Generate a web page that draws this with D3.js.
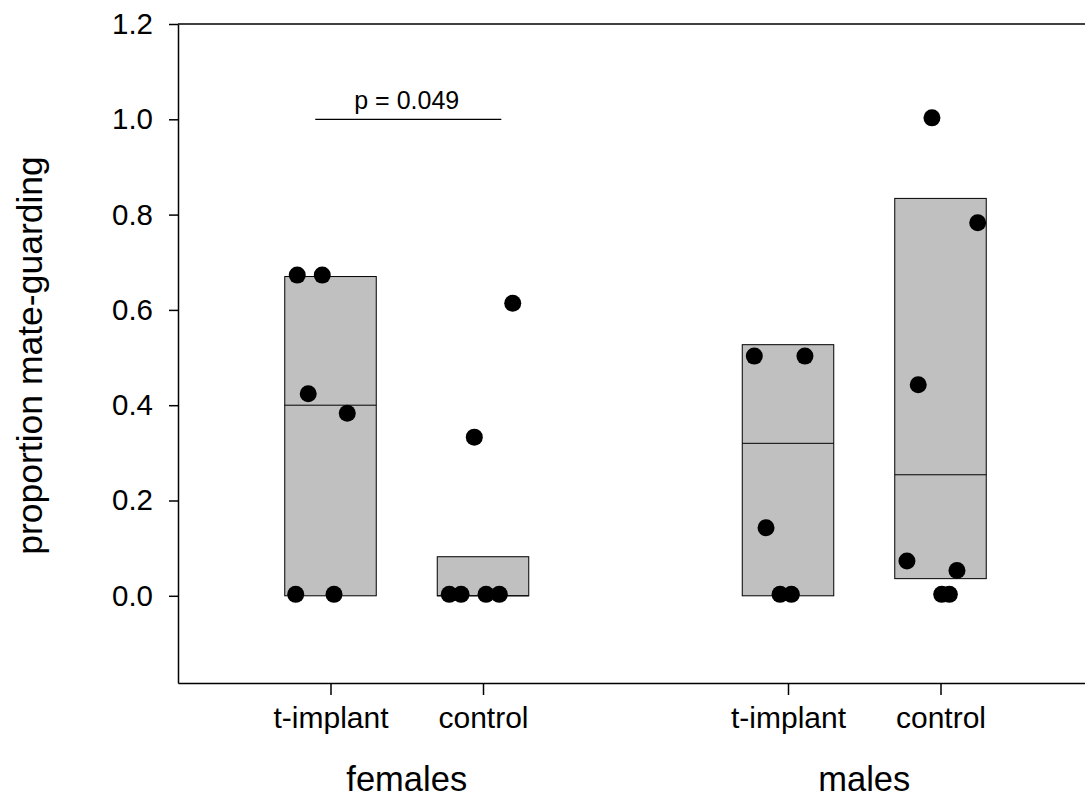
<!DOCTYPE html>
<html>
<head>
<meta charset="utf-8">
<script src="https://cdn.jsdelivr.net/npm/d3@7"></script>
<style>
  body { margin: 0; background: #fff; }
  svg { display: block; font-family: Arial, "Liberation Sans", sans-serif; }
  .axis path, .axis line { stroke: #000; stroke-width: 1.5; }
  .axis text { fill: #000; }
</style>
</head>
<body>
<svg width="1085" height="798"></svg>
<script>
// groups and their conditions
let groups = ["females", "males"],
    conditions = ["t-implant", "control", "t-implant", "control"],
    slots = [1, 2, 4, 5];

// box: top, median, bottom for each condition
let boxTop = [0.670, 0.082, 0.527, 0.834],
    boxMedian = [0.400, 0.000, 0.320, 0.254],
    boxBottom = [0.000, 0.000, 0.000, 0.036];

// individual values, with the jitter used in the original plot
let values = [
  [0.673, 0.673, 0.424, 0.383, 0.003, 0.003],
  [0.614, 0.333, 0.003, 0.003, 0.003, 0.003],
  [0.503, 0.503, 0.143, 0.003, 0.003],
  [1.003, 0.783, 0.443, 0.073, 0.053, 0.003, 0.003]
];
let jitter = [
  [-0.218, -0.054, -0.146, 0.110, -0.228, 0.023],
  [0.195, -0.057, -0.221, -0.144, 0.020, 0.107],
  [-0.221, 0.111, -0.144, -0.052, 0.022],
  [-0.056, 0.244, -0.146, -0.220, 0.108, 0.008, 0.058]
];

let yTicks = [0, 0.2, 0.4, 0.6, 0.8, 1.0, 1.2],
    pText = "p = 0.049",
    pValueAt = 1.0;

let svg = d3.select("svg"),
    plotLeft = 178, plotTop = 24, plotBottom = 683;

let x = d3.scaleLinear().domain([0, 6]).range([plotLeft, plotLeft + 6 * 152.5]),
    y = d3.scaleLinear().domain([-0.183, 1.2]).range([plotBottom, plotTop]);

let boxHalf = 0.3;

// axes
svg.append("g")
    .attr("class", "axis")
    .attr("transform", "translate(" + plotLeft + ",0)")
    .call(d3.axisLeft(y).tickValues(yTicks).tickFormat(d3.format(".1f"))
      .tickSize(9).tickSizeOuter(0).tickPadding(16))
    .selectAll("text")
    .style("font-size", "29.5px");

svg.append("g")
    .attr("class", "axis")
    .attr("transform", "translate(0," + plotBottom + ")")
    .call(d3.axisBottom(x).tickValues(slots).tickFormat(function(d, i) { return conditions[i]; })
      .tickSize(12).tickSizeOuter(0).tickPadding(12))
    .selectAll("text")
    .style("font-size", "30px");

svg.append("line")
    .attr("x1", plotLeft).attr("x2", 1085)
    .attr("y1", plotTop).attr("y2", plotTop)
    .attr("stroke", "#000").attr("stroke-width", 1.5);

// group labels
svg.selectAll(".group")
    .data(groups)
  .enter().append("text")
    .attr("class", "group")
    .attr("x", function(d, i) { return x((slots[2 * i] + slots[2 * i + 1]) / 2); })
    .attr("y", 791)
    .attr("text-anchor", "middle")
    .style("font-size", "34.5px")
    .text(function(d) { return d; });

svg.append("text")
    .attr("transform", "translate(42," + ((plotTop + plotBottom) / 2 + 2) + ") rotate(-90)")
    .attr("text-anchor", "middle")
    .style("font-size", "35.5px")
    .text("proportion mate-guarding");

// boxes
let box = svg.selectAll(".box")
    .data(slots)
  .enter().append("g")
    .attr("class", "box");

box.append("rect")
    .attr("x", function(d) { return x(d - boxHalf); })
    .attr("width", function(d) { return x(d + boxHalf) - x(d - boxHalf); })
    .attr("y", function(d, i) { return y(boxTop[i]); })
    .attr("height", function(d, i) { return y(boxBottom[i]) - y(boxTop[i]); })
    .attr("fill", "#c0c0c0")
    .attr("stroke", "#000")
    .attr("stroke-width", 1);

box.append("line")
    .attr("x1", function(d) { return x(d - boxHalf); })
    .attr("x2", function(d) { return x(d + boxHalf); })
    .attr("y1", function(d, i) { return y(boxMedian[i]); })
    .attr("y2", function(d, i) { return y(boxMedian[i]); })
    .attr("stroke", "#000")
    .attr("stroke-width", 1);

// points
let points = [];
values.forEach(function(vs, i) {
  vs.forEach(function(v, j) { points.push({slot: slots[i], off: jitter[i][j], v: v}); });
});

svg.selectAll(".dot")
    .data(points)
  .enter().append("circle")
    .attr("class", "dot")
    .attr("cx", function(d) { return x(d.slot + d.off); })
    .attr("cy", function(d) { return y(d.v); })
    .attr("r", 8.5)
    .attr("fill", "#000");

// significance bar
svg.append("line")
    .attr("x1", x(slots[0] - 0.1)).attr("x2", x(slots[1] + 0.12))
    .attr("y1", y(pValueAt)).attr("y2", y(pValueAt))
    .attr("stroke", "#000").attr("stroke-width", 1.3);

svg.append("text")
    .attr("x", x((slots[0] + slots[1]) / 2))
    .attr("y", y(pValueAt) - 10)
    .attr("text-anchor", "middle")
    .style("font-size", "25px")
    .text(pText);
</script>
</body>
</html>
